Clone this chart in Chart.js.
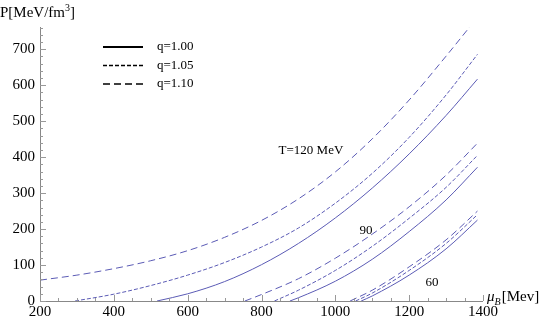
<!DOCTYPE html>
<html>
<head>
<meta charset="utf-8">
<script src="https://cdn.jsdelivr.net/npm/chart.js@4"></script>
<style>
  html, body { margin: 0; padding: 0; background: #fff; }
  #wrap { width: 556px; height: 322px; }
</style>
</head>
<body>
<div id="wrap"><canvas id="pressureChart" width="556" height="322"></canvas></div>
<script>
// pressure curves, P [MeV/fm^3] vs mu_B [MeV]
const muT120q110 = [200, 300, 400, 500, 600, 700, 800, 900, 1000, 1100, 1200, 1300, 1385];
const pT120q110  = [58, 72, 90, 112, 140, 177, 224, 284, 359, 451, 559, 681, 789];
const muT120q105 = [295, 400, 500, 600, 700, 800, 900, 1000, 1100, 1200, 1300, 1385];
const pT120q105  = [0, 19, 43, 72, 107, 150, 203, 272, 355, 455, 573, 686];
const muT120q100 = [517, 600, 700, 800, 900, 1000, 1100, 1200, 1300, 1385];
const pT120q100  = [0, 20, 54, 101, 160, 231, 314, 409, 516, 617];

const muT90q110 = [755, 800, 900, 1000, 1100, 1200, 1300, 1385];
const pT90q110  = [0, 18, 62, 119, 186, 262, 350, 439];
const muT90q105 = [835, 900, 1000, 1100, 1200, 1300, 1385];
const pT90q105  = [0, 30, 85, 152, 230, 316, 405];
const muT90q100 = [877, 900, 1000, 1100, 1200, 1300, 1385];
const pT90q100  = [0, 9, 55, 116, 193, 281, 372];

const muT60q110 = [1040, 1100, 1200, 1300, 1385];
const pT60q110  = [0, 30, 95, 170, 250];
const muT60q105 = [1055, 1100, 1200, 1300, 1385];
const pT60q105  = [0, 22, 85, 160, 240];
const muT60q100 = [1070, 1100, 1200, 1300, 1385];
const pT60q100  = [0, 14, 72, 145, 225];

const qLabels = ["q=1.00", "q=1.05", "q=1.10"];
const tempLabels = [
  { text: "T=120 MeV", mu: 934, p: 419 },
  { text: "90", mu: 1083, p: 197 },
  { text: "60", mu: 1262, p: 50 },
];
const xTicks = [200, 400, 600, 800, 1000, 1200, 1400];
const yTicks = [0, 100, 200, 300, 400, 500, 600, 700];

const lineBlue = "#5b5bb5";
const dashes = [[], [4, 2], [7, 4]]; // q=1.00, 1.05, 1.10
const serif = "'Liberation Serif', 'DejaVu Serif', serif";

function pts(mu, p) {
  return mu.map((m, i) => ({ x: m, y: p[i] }));
}
function curve(mu, p, qi) {
  return {
    data: pts(mu, p),
    borderColor: lineBlue,
    borderWidth: 1,
    borderDash: dashes[qi],
    pointRadius: 0,
    fill: false,
    cubicInterpolationMode: "monotone",
  };
}

// draws the inward ticks, axis titles, the q legend and the T labels
const decorations = {
  id: "decorations",
  afterDatasetsDraw(chart) {
    const c = chart.ctx;
    const xs = chart.scales.x, ys = chart.scales.y;
    const a = chart.chartArea;
    c.save();
    c.strokeStyle = "#888";
    c.lineWidth = 1;
    c.beginPath();
    c.moveTo(a.left + 0.5, a.top);
    c.lineTo(a.left + 0.5, a.bottom + 0.5);
    c.lineTo(a.right, a.bottom + 0.5);
    c.stroke();
    // minor/major ticks pointing into the plot
    c.strokeStyle = "#999";
    c.beginPath();
    for (let v = 200; v <= 1400; v += 50) {
      const px = Math.round(xs.getPixelForValue(v)) + 0.5;
      const len = v % 200 === 0 ? 6 : 3;
      c.moveTo(px, a.bottom);
      c.lineTo(px, a.bottom - len);
    }
    for (let v = 0; v <= ys.max; v += 20) {
      const py = Math.round(ys.getPixelForValue(v)) + 0.5;
      const len = v % 100 === 0 ? 6 : 3;
      c.moveTo(a.left, py);
      c.lineTo(a.left + len, py);
    }
    c.stroke();

    c.fillStyle = "#000";
    c.textBaseline = "middle";
    // y title
    c.font = "15px " + serif;
    c.textAlign = "left";
    c.fillText("P[MeV/fm", 0, 13);
    let w = c.measureText("P[MeV/fm").width;
    c.font = "10px " + serif;
    c.fillText("3", w, 8);
    w += c.measureText("3").width;
    c.font = "15px " + serif;
    c.fillText("]", w, 13);
    // x title
    let x0 = a.right + 4;
    c.font = "italic 15px " + serif;
    c.fillText("\u03bc", x0, a.bottom - 4);
    x0 += c.measureText("\u03bc").width;
    c.font = "italic 10px " + serif;
    c.fillText("B", x0, a.bottom + 1);
    x0 += c.measureText("B").width + 1;
    c.font = "15px " + serif;
    c.fillText("[Mev]", x0, a.bottom - 4);

    // legend
    c.font = "13px " + serif;
    qLabels.forEach((lab, i) => {
      const ly = 47 + i * 18.5;
      c.strokeStyle = "#000";
      c.lineWidth = i === 0 ? 2 : 1.6;
      c.setLineDash(dashes[i]);
      c.beginPath();
      c.moveTo(103, ly);
      c.lineTo(143, ly);
      c.stroke();
      c.setLineDash([]);
      c.fillText(lab, 157, ly);
    });

    // temperature labels
    c.textAlign = "center";
    tempLabels.forEach(t => {
      c.fillText(t.text, xs.getPixelForValue(t.mu), ys.getPixelForValue(t.p));
    });
    c.restore();
  },
};

const ctx = document.getElementById("pressureChart").getContext("2d");
new Chart(ctx, {
  type: "line",
  data: {
    datasets: [
      curve(muT120q110, pT120q110, 2),
      curve(muT120q105, pT120q105, 1),
      curve(muT120q100, pT120q100, 0),
      curve(muT90q110, pT90q110, 2),
      curve(muT90q105, pT90q105, 1),
      curve(muT90q100, pT90q100, 0),
      curve(muT60q110, pT60q110, 2),
      curve(muT60q105, pT60q105, 1),
      curve(muT60q100, pT60q100, 0),
    ],
  },
  options: {
    responsive: false,
    animation: false,
    layout: { padding: { top: 27, right: 73, left: 0, bottom: 0 } },
    plugins: { legend: { display: false }, tooltip: { enabled: false } },
    scales: {
      x: {
        type: "linear",
        min: 200,
        max: 1400,
        grid: { display: false, drawTicks: false },
        border: { display: false },
        afterFit: s => { s.height = 21; },
        afterBuildTicks: s => { s.ticks = xTicks.map(v => ({ value: v })); },
        ticks: {
          color: "#000", padding: 2, maxRotation: 0,
          font: { family: serif, size: 15 },
          callback: v => String(v),
        },
      },
      y: {
        min: 0,
        max: 762,
        grid: { display: false, drawTicks: false },
        border: { display: false },
        afterFit: s => { s.width = 40; },
        afterBuildTicks: s => { s.ticks = yTicks.map(v => ({ value: v })); },
        ticks: {
          color: "#000", padding: 5,
          font: { family: serif, size: 15 },
          callback: v => String(v),
        },
      },
    },
  },
  plugins: [decorations],
});
</script>
</body>
</html>
